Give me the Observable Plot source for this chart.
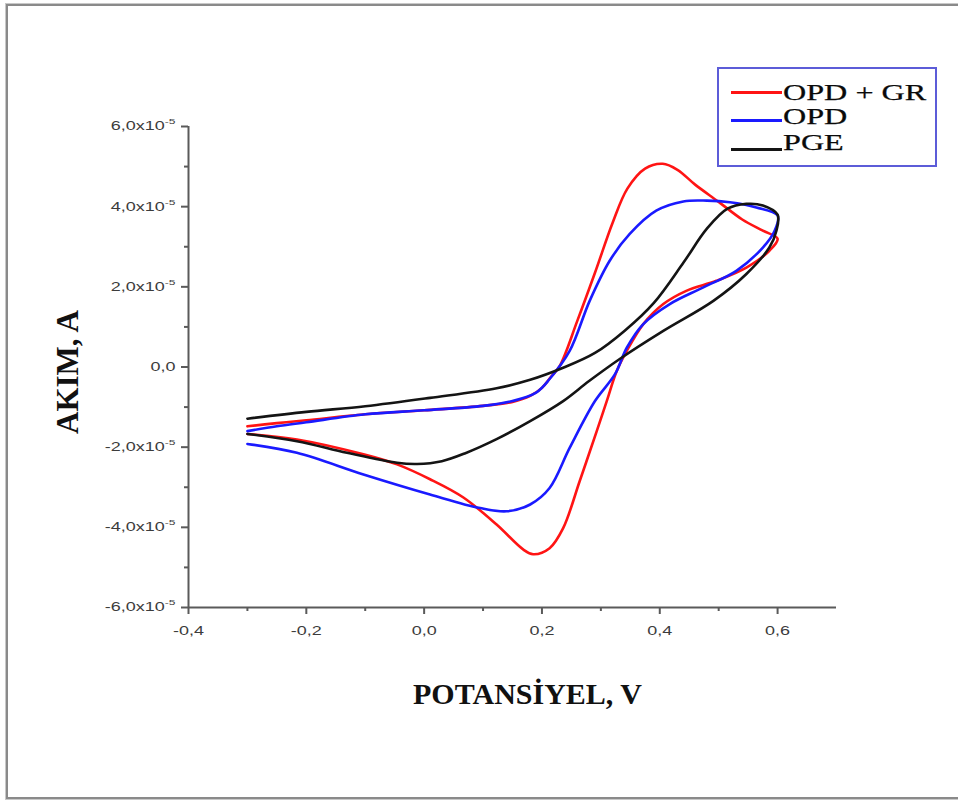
<!DOCTYPE html>
<html>
<head>
<meta charset="utf-8">
<script src="https://cdn.jsdelivr.net/npm/d3@7"></script>
<script src="https://cdn.jsdelivr.net/npm/@observablehq/plot@0.6"></script>
<style>
  html, body { margin: 0; padding: 0; background: #fff; }
  #wrap { position: relative; width: 958px; height: 803px; overflow: hidden; }
  #frame { position: absolute; left: 6px; top: 4px; width: 980px; height: 791px;
           border: 2px solid #8a8a8a; box-shadow: 0 0 0 1px #c8c8c8; }
  #chart { position: absolute; left: 0; top: 0; }
  #legend { position: absolute; left: 717px; top: 67px; width: 216px; height: 96px;
            border: 2px solid #5c5cd8; background: #fff; }
  .sw { position: absolute; left: 12px; width: 51px; height: 3px; }
  .lt { position: absolute; left: 64px; font-family: "Liberation Serif", "Times New Roman", serif;
        font-size: 24px; color: #0a0a0a; white-space: nowrap; transform: scaleX(1.34); transform-origin: left center;
        line-height: 1; -webkit-text-stroke: 0.25px #0a0a0a; }
</style>
</head>
<body>
<div id="wrap">
  <div id="frame"></div>
  <div id="chart"></div>
  <div id="legend"></div>
</div>
<script>
// ---- data (current in units of 1e-5 A) ----
const seriesNames = ["OPD + GR", "OPD", "PGE"];
const seriesColors = ["#ff1414", "#1a1aff", "#141414"];

const opdGrV = [-0.30,-0.25,-0.20,-0.10,0.00,0.10,0.15,0.18,0.20,0.215,0.23,0.26,0.29,0.32,0.345,0.375,0.405,0.43,0.46,0.50,0.54,0.575,0.60,
                0.586,0.547,0.496,0.445,0.406,0.372,0.344,0.327,0.31,0.293,0.264,0.236,0.213,0.185,0.168,0.123,0.066,0.01,-0.046,-0.103,-0.216,-0.30];
const opdGrA = [-1.48,-1.40,-1.33,-1.18,-1.08,-0.97,-0.87,-0.72,-0.52,-0.25,0.02,1.15,2.35,3.60,4.45,4.95,5.07,4.92,4.55,4.12,3.68,3.40,3.20,
                2.90,2.48,2.15,1.90,1.57,1.07,0.40,-0.10,-0.85,-1.60,-2.85,-4.02,-4.52,-4.67,-4.55,-3.93,-3.25,-2.80,-2.43,-2.18,-1.81,-1.67];

const opdV = [-0.30,-0.25,-0.20,-0.10,0.00,0.10,0.15,0.19,0.213,0.247,0.281,0.315,0.349,0.394,0.44,0.48,0.519,0.564,0.60,
              0.595,0.575,0.53,0.473,0.417,0.372,0.344,0.324,0.29,0.247,0.213,0.18,0.14,0.095,0.01,-0.103,-0.216,-0.30];
const opdA = [-1.60,-1.48,-1.38,-1.18,-1.08,-0.97,-0.85,-0.64,-0.30,0.40,1.65,2.65,3.32,3.90,4.13,4.15,4.11,3.98,3.78,
              3.40,2.98,2.40,1.98,1.57,1.07,0.48,-0.18,-0.85,-2.02,-3.02,-3.43,-3.60,-3.52,-3.18,-2.68,-2.14,-1.92];

const pgeV = [-0.30,-0.20,-0.10,0.01,0.123,0.18,0.236,0.29,0.34,0.39,0.44,0.48,0.515,0.547,0.575,0.60,
              0.598,0.586,0.547,0.491,0.406,0.332,0.28,0.236,0.18,0.123,0.07,0.03,-0.012,-0.046,-0.131,-0.216,-0.30];
const pgeA = [-1.29,-1.12,-0.98,-0.77,-0.53,-0.32,-0.02,0.35,0.90,1.60,2.60,3.45,3.95,4.07,4.03,3.80,
              3.40,2.98,2.32,1.65,0.90,0.20,-0.35,-0.85,-1.35,-1.80,-2.15,-2.35,-2.42,-2.39,-2.14,-1.85,-1.67];

const xTicks = [-0.4,-0.2,0.0,0.2,0.4,0.6];
const xMinorTicks = [-0.3,-0.1,0.1,0.3,0.5];
const yTicks = [-6,-4,-2,0,2,4,6];
const yMinorTicks = [-5,-3,-1,1,3,5];
const xLabel = "POTANSİYEL, V";
const yLabel = "AKIM, A";

const toRows = (vs, as) => vs.map((v, i) => ({v, a: as[i]}));
const curves = [toRows(opdGrV, opdGrA), toRows(opdV, opdA), toRows(pgeV, pgeA)];

const comma = d => d.toFixed(1).replace(".", ",");
const axisCol = "#5a5a5a";

const chart = Plot.plot({
  width: 958, height: 803,
  marginLeft: 188, marginRight: 122, marginTop: 126, marginBottom: 196,
  x: {domain: [-0.4, 0.7]},
  y: {domain: [-6, 6]},
  style: {background: "transparent", fontFamily: "'Liberation Sans', Arial, sans-serif", fontSize: "12px", color: "#3c3c3c"},
  marks: [
    Plot.ruleY([-6], {stroke: axisCol, strokeWidth: 2}),
    Plot.ruleX([-0.4], {stroke: axisCol, strokeWidth: 2}),
    Plot.axisX({ticks: xTicks, tickSize: 7, tickPadding: 12, tickFormat: comma, stroke: axisCol, strokeWidth: 2, label: null}),
    Plot.axisX({ticks: xMinorTicks, tickSize: 4, text: null, stroke: axisCol, strokeWidth: 2, label: null}),
    Plot.axisY({ticks: yTicks, tickSize: 7, tickPadding: 6, tickFormat: d => d === 0 ? "0,0" : comma(d) + "x10", stroke: axisCol, strokeWidth: 2, label: null}),
    Plot.axisY({ticks: yMinorTicks, tickSize: 4, text: null, stroke: axisCol, strokeWidth: 2, label: null}),
    Plot.line(curves[0], {x: "v", y: "a", stroke: seriesColors[0], strokeWidth: 2.6, curve: "catmull-rom"}),
    Plot.line(curves[1], {x: "v", y: "a", stroke: seriesColors[1], strokeWidth: 2.6, curve: "catmull-rom"}),
    Plot.line(curves[2], {x: "v", y: "a", stroke: seriesColors[2], strokeWidth: 2.6, curve: "catmull-rom"}),
    Plot.text([xLabel], {text: d => d, frameAnchor: "bottom", dy: 96, dx: 15, fontSize: 30, fontWeight: "bold",
                         fontFamily: "'Liberation Serif', 'Times New Roman', serif", fill: "#111"}),
    Plot.text([yLabel], {text: d => d, frameAnchor: "left", textAnchor: "middle", dx: -120, dy: 5, rotate: -90, fontSize: 31, fontWeight: "bold",
                         fontFamily: "'Liberation Serif', 'Times New Roman', serif", fill: "#111"})
  ]
});
document.getElementById("chart").appendChild(chart);

// superscript exponents and horizontal stretch of tick labels
const tickTexts = chart.querySelectorAll('g[aria-label$="tick label"] text');
tickTexts.forEach(t => {
  if (t.textContent.endsWith("x10")) {
    const ts = document.createElementNS("http://www.w3.org/2000/svg", "tspan");
    ts.setAttribute("dy", "-6");
    ts.setAttribute("font-size", "8");
    ts.textContent = "-5";
    t.appendChild(ts);
  }
});
tickTexts.forEach(t => {
  const len = t.getComputedTextLength();
  t.setAttribute("textLength", (len * 1.5).toFixed(1));
  t.setAttribute("lengthAdjust", "spacingAndGlyphs");
});

// legend
const legend = document.getElementById("legend");
const rowSw = [22, 50, 79];
const rowTx = [11, 35, 61];
seriesNames.forEach((name, i) => {
  const sw = document.createElement("div");
  sw.className = "sw";
  sw.style.top = rowSw[i] + "px";
  sw.style.background = seriesColors[i];
  legend.appendChild(sw);
  const tx = document.createElement("div");
  tx.className = "lt";
  tx.style.top = rowTx[i] + "px";
  tx.textContent = name;
  legend.appendChild(tx);
});
</script>
</body>
</html>
